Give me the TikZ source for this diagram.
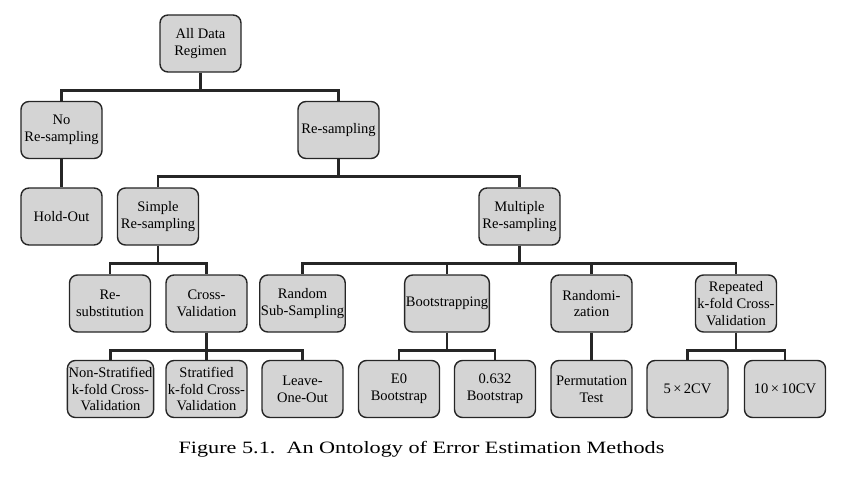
\documentclass[tikz,border=0pt]{standalone}
\usepackage{fontspec}
\setmainfont{Liberation Serif}
\newfontfamily\captionfont[FakeStretch=1.28]{Liberation Serif}
\usetikzlibrary{positioning}
\definecolor{boxgray}{RGB}{212,212,212}
\tikzset{
  method/.style={draw=black!85, line width=1.2pt, fill=boxgray, rounded corners=0.24cm,
    minimum width=2.43cm, minimum height=1.71cm, inner sep=1pt, align=center,
    font=\fontsize{12.4}{14.4}\selectfont},
  link/.style={line width=2.4pt, black!85}
}

\begin{document}
\begin{tikzpicture}[x=0.03cm, y=-0.03cm]
        \useasboundingbox (0,0) rectangle (852,480);
        \node[method] (all)    at (200.5,43.5) {All Data\\Regimen};
        \node[method] (nores)  at (61.5,130)   {No\\Re-sampling};
        \node[method] (res)    at (338.5,130)  {Re-sampling};
        \node[method] (hold)   at (61.5,216.5) {Hold-Out};
        \node[method] (simple) at (158,216.5)  {Simple\\Re-sampling};
        \node[method] (multi)  at (519.5,216.5) {Multiple\\Re-sampling};
        \node[method] (resub)  at (110,303.5)  {Re-\\substitution};
        \node[method] (cv)     at (206.5,303.5) {Cross-\\Validation};
        \node[method] (rss)    at (302.5,303.5) {Random\\Sub-Sampling};
        \node[method] (boot)   at (447,303.5)  {Bootstrapping};
        \node[method] (rand)   at (591.5,303.5) {Randomi-\\zation};
        \node[method] (rkcv)   at (736,303.5)  {Repeated\\k-fold Cross-\\Validation};
        \node[method] (nskcv)  at (110.5,389)  {Non-Stratified\\k-fold Cross-\\Validation};
        \node[method] (skcv)   at (206.5,389)  {Stratified\\k-fold Cross-\\Validation};
        \node[method] (loo)    at (302.5,389)  {Leave-\\One-Out};
        \node[method] (ezero)  at (399,389)    {E0\\Bootstrap};
        \node[method] (bsix)   at (495,389)    {0.632\\Bootstrap};
        \node[method] (perm)   at (591.5,389)  {Permutation\\Test};
        \node[method] (fivetwo) at (687.5,389) {5\,×\,2CV};
        \node[method] (tenten) at (785,389)    {10\,×\,10CV};
        \foreach \p/\c in {all/nores, all/res, nores/hold, res/simple, res/multi,
                           simple/resub, simple/cv, multi/rss, multi/boot, multi/rand, multi/rkcv,
                           cv/nskcv, cv/skcv, cv/loo, boot/ezero, boot/bsix, rand/perm,
                           rkcv/fivetwo, rkcv/tenten}{
          \draw[link] (\p.south) -- ++(0,17.5) -| (\c.north);
        }
        \node[anchor=base, font=\captionfont\fontsize{14.8}{17}\selectfont] (caption) at (421.5,453)
          {Figure 5.1.\ \ An Ontology of Error Estimation Methods};
      \end{tikzpicture}
\end{document}
